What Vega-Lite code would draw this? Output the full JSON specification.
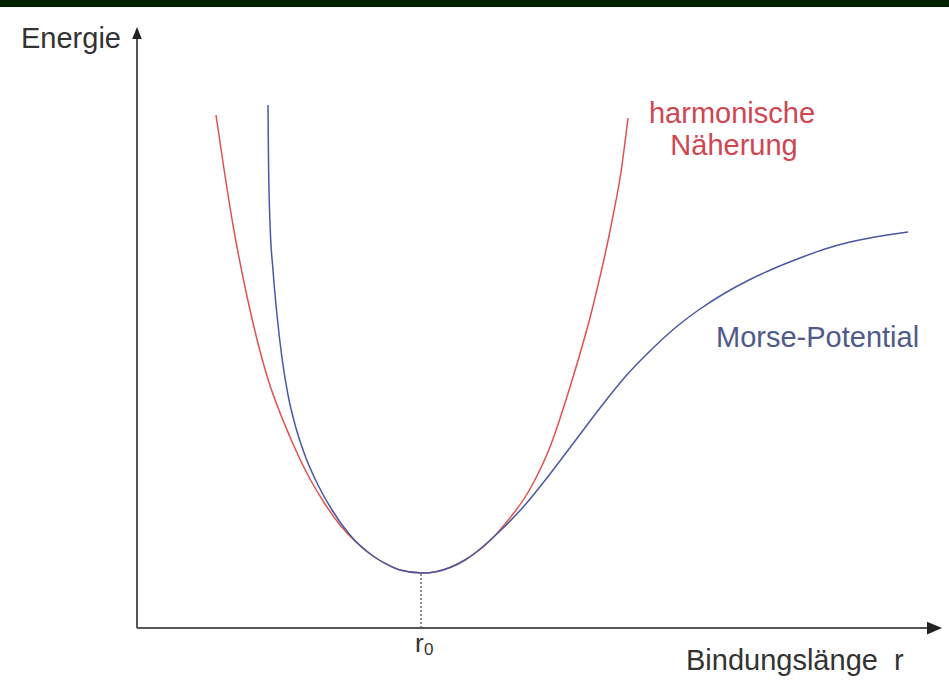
{
  "$schema": "https://vega.github.io/schema/vega-lite/v6.json",
  "width": 949,
  "height": 688,
  "padding": 0,
  "autosize": {"type": "fit", "contains": "padding"},
  "background": "white",
  "config": {"view": {"stroke": null}},
  "encoding": {
    "x": {"field": "r", "type": "quantitative", "scale": {"domain": [-137, 812], "nice": false, "zero": false}, "axis": null},
    "y": {"field": "E", "type": "quantitative", "scale": {"domain": [-60, 628], "nice": false, "zero": false}, "axis": null}
  },
  "layer": [
    {
      "data": {"values": [{"r": -137, "r2": 812, "E": 621, "E2": 628}]},
      "mark": {"type": "rect", "color": "#011f01"},
      "encoding": {"x2": {"field": "r2"}, "y2": {"field": "E2"}}
    },
    {
      "data": {"values": [{"r": 0, "E": 0, "E2": 592}]},
      "mark": {"type": "rule", "color": "#555555", "strokeWidth": 2},
      "encoding": {"y2": {"field": "E2"}}
    },
    {
      "data": {"values": [{"r": 0, "r2": 790, "E": 0}]},
      "mark": {"type": "rule", "color": "#555555", "strokeWidth": 2},
      "encoding": {"x2": {"field": "r2"}}
    },
    {
      "data": {"values": [{"r": 0, "E": 595}]},
      "mark": {"type": "point", "filled": true, "opacity": 1, "color": "#222222", "size": 144, "shape": "M0,-1L0.8,1L-0.8,1Z"},
      "encoding": {}
    },
    {
      "data": {"values": [{"r": 797.5, "E": 0}]},
      "mark": {"type": "point", "filled": true, "opacity": 1, "color": "#222222", "size": 225, "shape": "M1,0L-1,0.85L-1,-0.85Z"},
      "encoding": {}
    },
    {
      "data": {"values": [{"r": 284, "E": 0, "E2": 54}]},
      "mark": {"type": "rule", "color": "#444444", "strokeWidth": 1.2, "strokeDash": [2, 2]},
      "encoding": {"y2": {"field": "E2"}}
    },
    {
      "data": {"values": [
        {"r": 79, "E": 513}, {"r": 87, "E": 459}, {"r": 96, "E": 403}, {"r": 111, "E": 327},
        {"r": 130, "E": 252}, {"r": 153, "E": 191}, {"r": 173, "E": 149}, {"r": 188, "E": 124},
        {"r": 203, "E": 103}, {"r": 220, "E": 85}, {"r": 236, "E": 72}, {"r": 250, "E": 63.6},
        {"r": 263, "E": 58}, {"r": 285, "E": 55}, {"r": 300, "E": 56.6}, {"r": 313, "E": 60.5},
        {"r": 328, "E": 68}, {"r": 343, "E": 78.5}, {"r": 366, "E": 101.6}, {"r": 393, "E": 139},
        {"r": 413, "E": 181}, {"r": 433, "E": 241}, {"r": 456, "E": 322}, {"r": 476, "E": 412},
        {"r": 484, "E": 456}, {"r": 491, "E": 510}
      ]},
      "mark": {"type": "line", "color": "#e05252", "strokeWidth": 1.5, "interpolate": "monotone"},
      "encoding": {}
    },
    {
      "data": {"values": [
        {"r": 131, "E": 523}, {"r": 131.5, "E": 468}, {"r": 133, "E": 405}, {"r": 136, "E": 358},
        {"r": 140, "E": 313}, {"r": 145, "E": 270}, {"r": 151, "E": 233}, {"r": 159, "E": 200},
        {"r": 169, "E": 170}, {"r": 181, "E": 143}, {"r": 195, "E": 118}, {"r": 213, "E": 93},
        {"r": 236, "E": 72}, {"r": 250, "E": 63.6}, {"r": 263, "E": 58}, {"r": 285, "E": 55},
        {"r": 300, "E": 56.6}, {"r": 313, "E": 60.5}, {"r": 328, "E": 68}, {"r": 338, "E": 75},
        {"r": 363, "E": 97}, {"r": 388, "E": 123}, {"r": 413, "E": 154}, {"r": 438, "E": 187},
        {"r": 463, "E": 220}, {"r": 488, "E": 251}, {"r": 513, "E": 277}, {"r": 538, "E": 300},
        {"r": 563, "E": 319}, {"r": 588, "E": 335}, {"r": 613, "E": 348.5}, {"r": 638, "E": 360},
        {"r": 663, "E": 370}, {"r": 688, "E": 379}, {"r": 713, "E": 386}, {"r": 738, "E": 391},
        {"r": 771, "E": 396}
      ]},
      "mark": {"type": "line", "color": "#4a58a4", "strokeWidth": 1.5, "interpolate": "monotone"},
      "encoding": {}
    },
    {
      "data": {"values": [
        {"label": "Energie", "r": -116, "E": 580},
        {"label": "Bindungslänge\u00a0\u00a0r", "r": 549, "E": -42}
      ]},
      "mark": {"type": "text", "font": "Liberation Sans", "fontSize": 29, "align": "left", "baseline": "alphabetic", "color": "#333333"},
      "encoding": {"text": {"field": "label"}}
    },
    {
      "data": {"values": [{"label": "r", "r": 278, "E": -24}]},
      "mark": {"type": "text", "font": "Liberation Sans", "fontSize": 26, "align": "left", "baseline": "alphabetic", "color": "#333333"},
      "encoding": {"text": {"field": "label"}}
    },
    {
      "data": {"values": [{"label": "0", "r": 287, "E": -27}]},
      "mark": {"type": "text", "font": "Liberation Sans", "fontSize": 17, "align": "left", "baseline": "alphabetic", "color": "#333333"},
      "encoding": {"text": {"field": "label"}}
    },
    {
      "data": {"values": [
        {"label": "harmonische", "r": 595, "E": 505},
        {"label": "Näherung", "r": 597, "E": 473}
      ]},
      "mark": {"type": "text", "font": "Liberation Sans", "fontSize": 29, "align": "center", "baseline": "alphabetic", "color": "#d04650"},
      "encoding": {"text": {"field": "label"}}
    },
    {
      "data": {"values": [{"label": "Morse-Potential", "r": 579, "E": 281}]},
      "mark": {"type": "text", "font": "Liberation Sans", "fontSize": 29, "align": "left", "baseline": "alphabetic", "color": "#4f5a8c"},
      "encoding": {"text": {"field": "label"}}
    }
  ]
}
